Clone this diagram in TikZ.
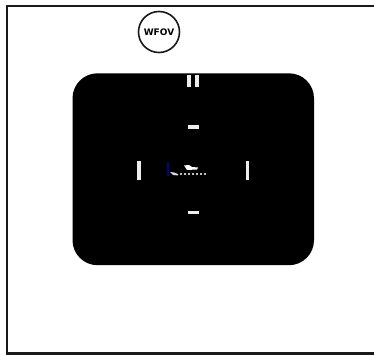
\documentclass[tikz,border=0pt]{standalone}
\usepackage{fontspec}
\setmainfont{DejaVu Sans}
\definecolor{tick}{gray}{0.93}
\tikzset{
  marker/.style={fill=tick,draw=none},
  frameline/.style={draw=black!90,line width=2.2pt},
  dotmark/.style={fill=white,draw=none,opacity=0.75}
}
\begin{document}
\begin{tikzpicture}[x=1pt,y=-1pt]
\useasboundingbox (0,0) rectangle (374,355);
\fill[white] (0,0) rectangle (374,355);
% frame, open on the right
\draw[frameline] (374,6) -- (7.3,6) -- (7.3,353.5) -- (374,353.5);
% display
\fill[black,rounded corners=25pt] (72.5,73.3) rectangle (314,265.2);
% badge
\node[circle,draw=black!90,line width=1.6pt,minimum size=41pt,inner sep=0pt,fill=white,
  font=\bfseries\fontsize{9}{10}\selectfont] (badge) at (159,32) {WFOV};
% reticle marks
\fill[marker] (187.3,75) rectangle (190.5,87);
\fill[marker] (195.4,75) rectangle (198.6,87);
\fill[marker] (187.5,124.8) rectangle (199.3,128.6);
\fill[marker] (187.5,210.5) rectangle (199.3,214);
\fill[marker] (137.4,160.7) rectangle (140.8,180);
\fill[marker] (245.7,160.7) rectangle (249.1,180);
% target
\fill[blue!50!black] (167.4,161.7) rectangle (169.2,176);
\fill[white] (184,165.5) -- (189,165) -- (192,167) -- (198,167.5) -- (197,169.5) -- (187,170) -- cycle;
\fill[white!85!black] (170,172) -- (174,172.5) -- (178,174) -- (178,175.5) -- (173,175) -- cycle;
\foreach \px in {181,185,189,193,197,201,205}
  \fill[dotmark] (\px-0.8,173.4) rectangle (\px+0.8,175);
\end{tikzpicture}
\end{document}
